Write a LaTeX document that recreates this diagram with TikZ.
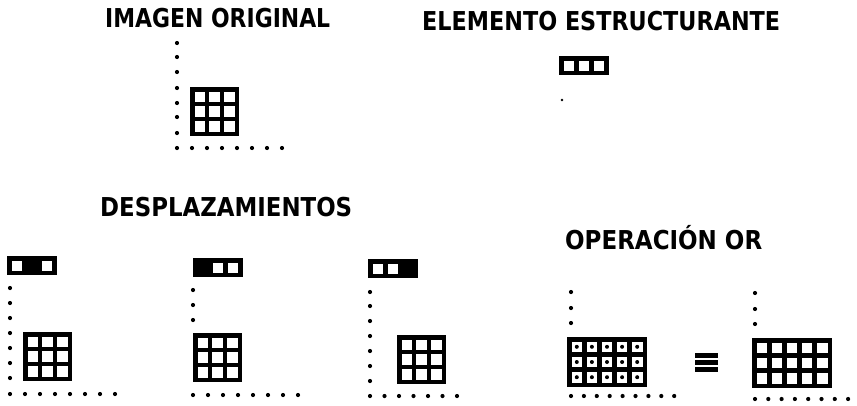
\documentclass[tikz,border=0pt]{standalone}
\usepackage{fontspec}
\usepackage{graphicx}
\setmainfont{DejaVu Sans}

% Black grid of white pixels: top left x, top left y, width, height, columns, rows
\newcommand{\pixgrid}[6]{%
    \fill (#1,#2) rectangle ++(#3,#4);
    \foreach \i in {1,...,#5}
        \foreach \j in {1,...,#6}
            \fill[white] ({#1+4.5+(\i-1)*(#3-4.5)/#5},{#2+4.5+(\j-1)*(#4-4.5)/#6}) rectangle ++({(#3-4.5)/#5-4.5},{(#4-4.5)/#6-4.5});
}

% Structuring element: top left x, top left y, list of white positions
\newcommand{\sebox}[3]{%
    \fill (#1,#2) rectangle ++(50,19);
    \foreach \k in {#3}
        \fill[white] ({#1+4.5+(\k-1)*15.2},{#2+4.5}) rectangle ++(10.5,10);
}

\begin{document}
\begin{tikzpicture}[x=1pt, y=-1pt,
    titleText/.style={anchor=north west, inner sep=0pt, font=\bfseries\fontsize{26}{26}\selectfont},
    pixDot/.style={fill=black}]

    % Define page size
    \def\pageW{857}
    \def\pageH{405}
    \def\dotR{2.1pt}
    \useasboundingbox (0,0) rectangle (\pageW,\pageH);

    % Titles
    \node[titleText] (tOriginal) at (105,8) {\resizebox{225pt}{\height}{IMAGEN ORIGINAL}};
    \node[titleText] (tElemento) at (422,11) {\resizebox{358pt}{\height}{ELEMENTO ESTRUCTURANTE}};
    \node[titleText] (tDesplaz) at (100,197) {\resizebox{252pt}{\height}{DESPLAZAMIENTOS}};
    \node[titleText, anchor=south west] (tOr) at (565,250) {\resizebox{197pt}{\height}{OPERACIÓN OR}};

    % Original image
    \foreach \y in {43,57,72,88,103,117,133}
        \fill[pixDot] (177,\y) circle (\dotR);
    \foreach \i in {0,...,7}
        \fill[pixDot] ({177+15*\i},148) circle (\dotR);
    \pixgrid{190}{87}{49}{49}{3}{3}

    % Structuring element
    \sebox{559}{56}{1,2,3}
    \fill[pixDot] (562,100) circle (1.4pt);

    % Shift 1
    \sebox{7}{256}{1,3}
    \foreach \y in {288,303,318,333,348,363,378}
        \fill[pixDot] (10,\y) circle (\dotR);
    \foreach \i in {0,...,7}
        \fill[pixDot] ({10+15*\i},394) circle (\dotR);
    \pixgrid{23}{332}{49}{49}{3}{3}

    % Shift 2
    \sebox{193}{258}{2,3}
    \foreach \y in {290,305,320}
        \fill[pixDot] (193,\y) circle (\dotR);
    \foreach \i in {0,...,7}
        \fill[pixDot] ({193+15*\i},395) circle (\dotR);
    \pixgrid{193}{333}{49}{49}{3}{3}

    % Shift 3
    \sebox{368}{259}{1,2}
    \foreach \y in {292,306,321,336,351,366,381}
        \fill[pixDot] (370,\y) circle (\dotR);
    \foreach \i in {0,...,6}
        \fill[pixDot] ({370+14.5*\i},396) circle (\dotR);
    \pixgrid{397}{335}{49}{49}{3}{3}

    % OR of the shifts
    \foreach \y in {292,308,323}
        \fill[pixDot] (571,\y) circle (\dotR);
    \foreach \i in {0,...,8}
        \fill[pixDot] ({571+12.9*\i},396) circle (\dotR);
    \pixgrid{567}{337}{80}{50}{5}{3}
    \foreach \i in {1,...,5}
        \foreach \j in {1,...,3}
            \fill[pixDot] ({567+4.5+(\i-1)*15.1+5.3},{337+4.5+(\j-1)*15.2+5.3}) circle (2pt);

    % Equivalence sign
    \foreach \k in {0,1,2}
        \fill (695,{353+7*\k}) rectangle ++(23,5);

    % Result
    \foreach \y in {293,309,324}
        \fill[pixDot] (755,\y) circle (\dotR);
    \foreach \i in {0,...,7}
        \fill[pixDot] ({755+13.3*\i},399) circle (\dotR);
    \pixgrid{752}{338}{80}{50}{5}{3}

\end{tikzpicture}
\end{document}
